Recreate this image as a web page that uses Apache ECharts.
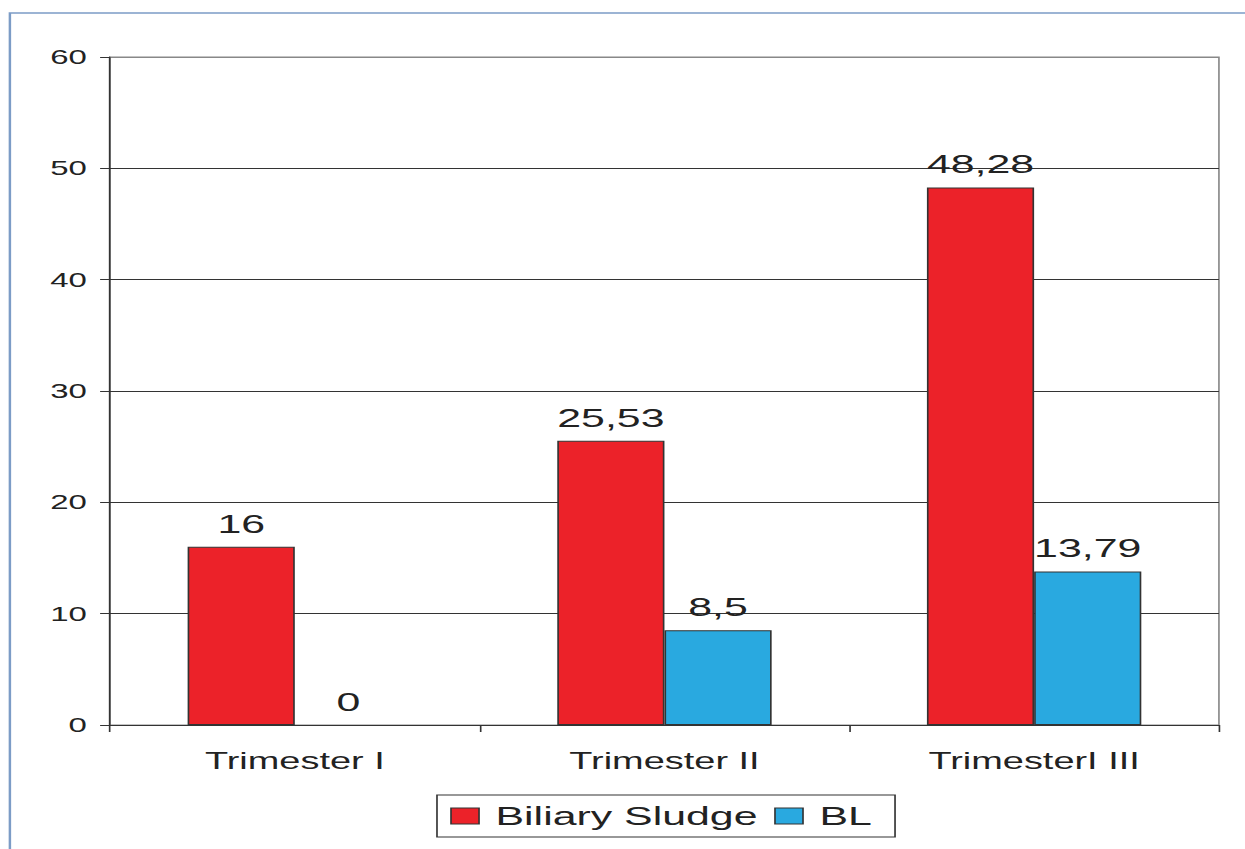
<!DOCTYPE html>
<html>
<head>
<meta charset="utf-8">
<script src="https://cdn.jsdelivr.net/npm/echarts@6/dist/echarts.min.js"></script>
<style>
  html, body { margin: 0; padding: 0; background: #fff; overflow: hidden; }
  #wrap { width: 1245px; height: 849px; overflow: hidden; position: relative; }
  #chart { width: 755px; height: 849px; transform: scaleX(1.649); transform-origin: 0 0; }
</style>
</head>
<body>
<div id="wrap"><div id="chart"></div></div>
<script>
const categories = ['Trimester I', 'Trimester II', 'TrimesterI III'];
const sludgeValues = [16, 25.53, 48.28];
const blValues = [0, 8.5, 13.79];
const seriesNames = ['Biliary Sludge', 'BL'];
const yTicks = [0, 10, 20, 30, 40, 50, 60];

const FONT = "'Liberation Sans', Arial, sans-serif";
const TXT = '#222';
const chart = echarts.init(document.getElementById('chart'), null, { renderer: 'svg' });

const labelCfg = {
  show: true,
  position: 'top',
  distance: 10,
  fontFamily: FONT,
  fontSize: 26,
  color: TXT,
  formatter: p => String(p.value).replace('.', ',')
};

// zero-height bars carry no visible outline
const toItems = arr => arr.map(v => (v === 0 ? { value: v, itemStyle: { borderWidth: 0 } } : v));

chart.setOption({
  backgroundColor: '#fff',
  animation: false,
  graphic: [{
    type: 'rect',
    shape: { x: 6, y: 13, width: 2000, height: 2000 },
    style: { fill: 'none', stroke: '#7C9CC6', lineWidth: 1.5 },
    silent: true
  }],
  grid: {
    left: 66.7, right: 15.8, top: 57, bottom: 124,
    show: true, borderColor: '#888', borderWidth: 1, backgroundColor: 'transparent'
  },
  legend: {
    data: seriesNames,
    left: 265, top: 795,
    orient: 'horizontal',
    icon: 'rect',
    borderColor: '#333', borderWidth: 1,
    padding: [8, 14, 8, 8],
    itemGap: 10,
    itemWidth: 17, itemHeight: 16,
    itemStyle: { borderColor: '#333', borderWidth: 1 },
    textStyle: { fontFamily: FONT, fontSize: 26, color: TXT, padding: [0, 0, 0, 5] }
  },
  xAxis: {
    type: 'category',
    data: categories,
    axisLine: { show: true, lineStyle: { color: '#333', width: 1 } },
    axisTick: { show: true, length: 7, alignWithLabel: false, lineStyle: { color: '#333' } },
    axisLabel: { fontFamily: FONT, fontSize: 23, color: TXT, margin: 25 },
    splitLine: { show: false }
  },
  yAxis: {
    type: 'value',
    min: 0, max: 60, interval: 10,
    axisLine: { show: true, lineStyle: { color: '#333', width: 1 } },
    axisTick: { show: true, length: 6, inside: false, lineStyle: { color: '#333' } },
    axisLabel: {
      fontFamily: FONT, fontSize: 20, color: TXT, margin: 14,
      formatter: v => (yTicks.includes(v) ? String(v) : '')
    },
    splitLine: { show: true, lineStyle: { color: ['#333', '#333', '#333', '#333', '#333', '#333', '#888'], width: 1 } }
  },
  series: [
    {
      name: seriesNames[0],
      type: 'bar',
      data: toItems(sludgeValues),
      barGap: '0%',
      barCategoryGap: '42%',
      itemStyle: { color: '#EC2229', borderColor: '#333', borderWidth: 1 },
      label: labelCfg
    },
    {
      name: seriesNames[1],
      type: 'bar',
      data: toItems(blValues),
      barGap: '0%',
      barCategoryGap: '42%',
      itemStyle: { color: '#29A9E0', borderColor: '#333', borderWidth: 1 },
      label: labelCfg
    }
  ]
});
</script>
</body>
</html>
